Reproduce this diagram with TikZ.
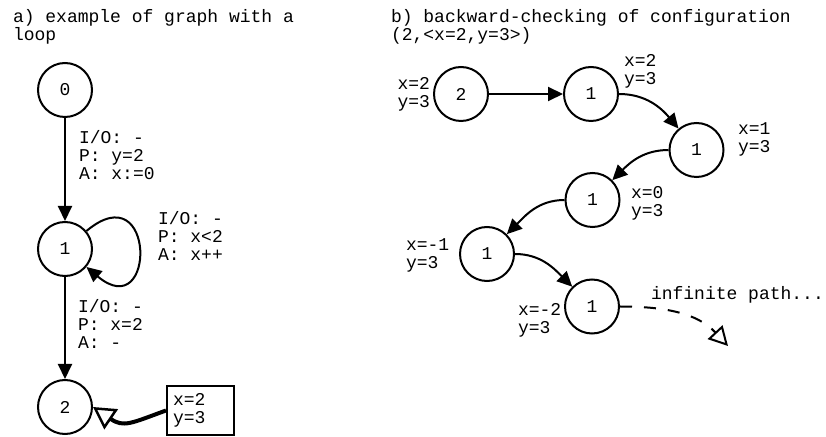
\documentclass[tikz,border=0pt]{standalone}
\usepackage{fontspec}
\setmonofont{Liberation Mono}
\usetikzlibrary{arrows.meta}

\begin{document}
\begin{tikzpicture}[
        x=1pt, y=1pt,
        line width=2pt,
        font=\ttfamily\fontsize{18}{18}\selectfont
    ]
    \tikzset{
        statenode/.style = {circle, draw=black, minimum size=54pt, inner sep=0pt, fill=white},
        textlabel/.style = {align=left, inner sep=0pt, anchor=west},
        confbox/.style = {rectangle, draw=black, align=left, text width=55pt, inner sep=6pt, minimum height=49pt},
        edgea/.style = {-{Triangle[length=15pt,width=14pt]}},
        edgeo/.style = {line width=4pt, -{Triangle[open,length=22pt,width=24pt,line width=2.5pt]}},
        edged/.style = {dash pattern=on 12pt off 12pt, -{Triangle[open,length=19pt,width=20pt,line width=2pt]}},
    }
    \useasboundingbox (0,0) rectangle (826,436);
    % a) graph with a loop
    \node[textlabel] at (12,409.5) (ta) {a) example of graph with a\\loop};
    \node[statenode] at (65,346) (s0) {0};
    \node[statenode] at (65,187) (s1) {1};
    \node[statenode] at (65,29) (s2) {2};
    \node[confbox] at (200.5,25.5) (cb) {x=2\\y=3};
    \node[textlabel] at (78,280.5) (l01) {I/O: -\\P: y=2\\A: x:=0};
    \node[textlabel] at (157,200) (l11) {I/O: -\\P: x<2\\A: x++};
    \node[textlabel] at (77,112) (l12) {I/O: -\\P: x=2\\A: -};
    %
    \draw[edgea] (s0) edge (s1);
    \draw[edgea] (s1) edge[out=40,in=-40,looseness=6.5] (s1);
    \draw[edgea] (s1) edge (s2);
    \draw[edgeo] (cb.west) to[out=200,in=-34,looseness=1.3] (s2.east);
    % b) backward-checking
    \node[textlabel] at (390,409.5) (tb) {b) backward-checking of configuration\\(2,<x=2,y=3>)};
    \node[statenode] at (461,342) (r2) {2};
    \node[statenode] at (591,342) (r1a) {1};
    \node[statenode] at (696.5,286) (r1b) {1};
    \node[statenode] at (592.5,236) (r1c) {1};
    \node[statenode] at (487,182) (r1d) {1};
    \node[statenode] at (592,129.5) (r1e) {1};
    \coordinate (rinf) at (728,90);
    %
    \node[textlabel, anchor=east] at (431,341.5) (v2) {x=2\\y=3};
    \node[textlabel] at (623,365) (v1a) {x=2\\y=3};
    \node[textlabel] at (737,297) (v1b) {x=1\\y=3};
    \node[textlabel] at (630,233) (v1c) {x=0\\y=3};
    \node[textlabel] at (405,181) (v1d) {x=-1\\y=3};
    \node[textlabel] at (517,116) (v1e) {x=-2\\y=3};
    \node[anchor=base west, inner sep=0pt] at (650,136) (vinf) {infinite path...};
    %
    \draw[edgea] (r2) edge (r1a);
    \draw[edgea] (r1a) edge[out=0,in=130] (r1b);
    \draw[edgea] (r1b) edge[out=180,in=45] (r1c);
    \draw[edgea] (r1c) edge[out=180,in=45] (r1d);
    \draw[edgea] (r1d) edge[out=0,in=135] (r1e);
    \draw[edged] (r1e) edge[out=0,in=133] (rinf);
\end{tikzpicture}
\end{document}
